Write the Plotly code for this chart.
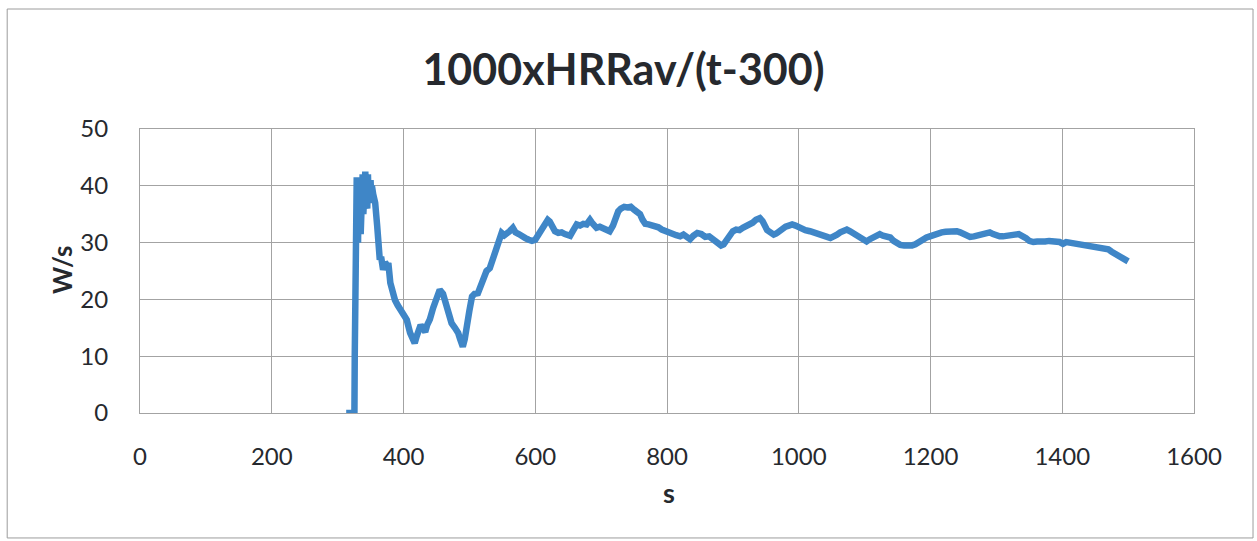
import plotly.graph_objects as go

# Time (s) and 1000*HRRav/(t-300) (W/s): ignition spike and early recovery
t_early = [313, 318, 322, 325.5, 326, 326.5, 327, 328,
           329, 330, 331, 332, 333, 334, 335, 336, 337, 338, 339, 340, 341, 342,
           343, 344, 345, 346, 347, 348, 349, 350, 351, 352,
           354, 357, 360, 362, 364, 366, 369, 372, 375, 377,
           380, 384, 387, 391, 395, 400, 405, 410, 413, 417,
           420, 422, 426, 430, 433, 436, 440, 445, 450, 455,
           460, 463, 468, 473, 478, 483, 486, 488, 490, 493,
           496, 500, 504, 508, 513, 517, 521, 526, 531, 536,
           541, 545, 549]
w_early = [0, 0, 0, 0, 10, 17.5, 14, 30,
           41.5, 38, 30, 41, 33, 36, 31.5, 38, 34, 42, 35, 41, 36, 42.5,
           37, 40, 36, 42, 38, 41, 37, 41, 38, 40,
           38.5, 37, 33, 30, 27, 27.5, 25.2, 26.5, 26, 26.4,
           22.9, 21, 19.9, 19, 18.2, 17.5, 16.4, 14.1, 13, 12.3,
           13.5, 14.6, 15.5, 14.8, 14.3, 15.5, 16.5, 18.5, 20, 21.7,
           21, 19.9, 18, 15.8, 15, 14.1, 13, 12, 11.7, 13,
           15.8, 18, 20.5, 21, 21.1, 22.5, 24, 25, 25.5, 27.5,
           29.3, 30.8, 31.7]

# Quasi-steady part
t_late = [553, 557, 561, 566, 570, 575, 580,
          585, 590, 595, 600, 605, 610, 615, 619, 622, 626, 630, 635, 640, 645, 650, 653,
          657, 660, 663, 668, 673, 678, 683, 686, 690, 693, 698, 703, 708, 713, 718, 722,
          726, 730, 735, 740, 745, 750, 755, 759, 763, 767, 772, 777, 782, 787, 792, 797,
          802, 808, 814, 820, 825, 830, 835, 840, 846, 852, 858, 864, 870, 876, 882, 886,
          890, 895, 900, 905, 910, 915, 920, 925, 930, 935, 941, 945, 948, 952, 957, 962,
          966, 970, 975, 980, 985, 990, 995, 1000, 1005, 1010, 1017, 1024, 1030, 1037, 1043,
          1048, 1053, 1058, 1063, 1068, 1073, 1078, 1083, 1088, 1093, 1098, 1103, 1108, 1113,
          1118, 1123, 1128, 1133, 1139, 1144, 1149, 1154, 1160, 1166, 1172, 1177, 1183, 1189,
          1194, 1199, 1205, 1211, 1217, 1223, 1229, 1235, 1240, 1245, 1250, 1255, 1260, 1266,
          1272, 1278, 1284, 1290, 1295, 1300, 1305, 1310, 1316, 1322, 1328, 1334, 1340, 1345,
          1350, 1356, 1362, 1368, 1374, 1380, 1386, 1391, 1396, 1401, 1406, 1411, 1417, 1423,
          1429, 1435, 1441, 1447, 1453, 1459, 1465, 1470, 1475, 1480, 1485, 1490, 1495, 1500]
w_late = [31.3, 31.5, 32, 32.6, 31.8, 31.5, 31,
          30.8, 30.5, 30.3, 30.5, 31.5, 32.5, 33.5, 34, 33.7, 33, 32, 31.7, 31.8, 31.5, 31.4, 31.2,
          32, 32.8, 33.2, 33, 33.3, 33.2, 34, 33.5, 33, 32.6, 32.8, 32.5, 32.3, 32, 33, 34.5,
          35.5, 36, 36.3, 36.2, 36.3, 35.8, 35.3, 35, 34, 33.3, 33.2, 33.1, 33, 32.7, 32.3, 32,
          31.8, 31.6, 31.3, 31.1, 31.4, 31, 30.6, 31.2, 31.7, 31.5, 31, 31.1, 30.6, 30, 29.5, 29.7,
          30.5, 31.5, 32, 32.3, 32.2, 32.6, 32.9, 33, 33.5, 34, 34.3, 33.8, 33, 32.2, 31.8, 31.4,
          31.6, 32, 32.5, 32.8, 33, 33.2, 33, 32.7, 32.3, 32.2, 32, 31.8, 31.6, 31.3, 31,
          30.8, 31, 31.4, 31.8, 32.1, 32.3, 32, 31.6, 31.1, 30.8, 30.5, 30.2, 30.6, 31,
          31.4, 31.5, 31.2, 31, 30.9, 30.3, 29.9, 29.6, 29.5, 29.4, 29.5, 29.7, 30.2, 30.6,
          30.9, 31.1, 31.4, 31.6, 31.8, 31.9, 32, 31.9, 32, 31.8, 31.5, 31.3, 31, 31.1,
          31.3, 31.5, 31.6, 31.8, 31.5, 31.2, 31.1, 31.1, 31.3, 31.2, 31.4, 31.5, 31.2, 30.8,
          30.3, 30.1, 30.2, 30.1, 30.2, 30.3, 30.2, 30.4, 30.1, 29.8, 30.1, 30, 29.9, 29.8,
          29.7, 29.6, 29.5, 29.4, 29.3, 29.2, 29.1, 28.8, 28.4, 28, 27.6, 27.3, 27, 26.7]

assert len(t_early) == len(w_early) and len(t_late) == len(w_late)
t_s = t_early + t_late
w_s = w_early + w_late

x_ticks = [0, 200, 400, 600, 800, 1000, 1200, 1400, 1600]
y_ticks = [0, 10, 20, 30, 40, 50]

FONT = "Lato, Carlito, Open Sans, sans-serif"
TEXT = "#26292e"
GRID = "#a3a3a3"

fig = go.Figure()
fig.add_trace(go.Scatter(
    x=t_s, y=w_s, mode="lines",
    line=dict(color="#3f86c7", width=6.5),
    hoverinfo="x+y", showlegend=False,
))

axis_common = dict(
    showgrid=True, gridcolor=GRID, gridwidth=1,
    showline=True, linecolor=GRID, linewidth=1, mirror=True,
    zeroline=False, ticks="",
    tickfont=dict(family=FONT, size=24, color=TEXT),
)

fig.update_xaxes(range=[0, 1600], tickvals=x_ticks, ticklabelstandoff=22, **axis_common)
fig.update_yaxes(range=[0, 50], tickvals=y_ticks, ticklabelstandoff=26, **axis_common)

fig.update_layout(
    width=1257, height=541,
    margin=dict(l=140, r=63, t=129, b=128),
    paper_bgcolor="white", plot_bgcolor="white",
    title=dict(
        text="<b>1000xHRRav/(t-300)</b>",
        font=dict(family=FONT, size=43, color=TEXT),
        x=0.496, xanchor="center", xref="container",
        y=0.87, yanchor="middle", yref="container",
    ),
    annotations=[
        dict(text="<b>W/s</b>", textangle=-90, xref="paper", yref="paper",
             x=-0.074, y=0.5035, xanchor="center", yanchor="middle",
             showarrow=False, font=dict(family=FONT, size=26, color=TEXT)),
        dict(text="<b>s</b>", xref="paper", yref="paper",
             x=0.502, y=-0.28, xanchor="center", yanchor="middle",
             showarrow=False, font=dict(family=FONT, size=27, color=TEXT)),
    ],
    shapes=[
        dict(type="rect", xref="paper", yref="paper",
             x0=-0.126, x1=1.056, y0=-0.44, y1=1.4225,
             line=dict(color="#9c9c9c", width=1), fillcolor="rgba(0,0,0,0)",
             layer="below"),
    ],
)

fig.write_html("out.html")
